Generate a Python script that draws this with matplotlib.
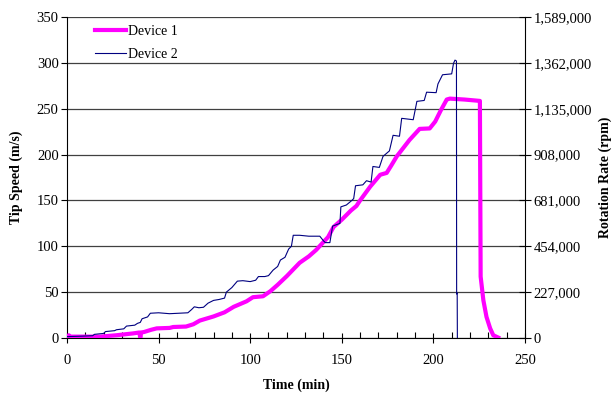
import matplotlib
matplotlib.use("Agg")
import matplotlib.pyplot as plt
from matplotlib.ticker import MultipleLocator, FuncFormatter

plt.rcParams["font.family"] = ["Liberation Serif", "DejaVu Serif"]

# Device 1 (thick magenta)
d1_time = [0, 1, 2, 10, 18, 27, 36, 39.5, 40, 40.5, 42, 46, 49, 56, 58, 65, 69,
           72.5, 80, 86, 91, 98, 101.5, 107, 111, 115, 120, 127, 132, 136, 142.5,
           145.5, 150, 155, 158, 160, 165.5, 171, 174.5, 177, 180, 187, 192.5,
           198, 201, 204, 207.3, 209, 217, 225.4, 225.8, 227.3, 229, 231, 232.7,
           235.4]
d1_speed = [2, 3, 1.5, 1.5, 1.5, 3, 5, 6, 0, 6, 6.5, 9, 10.5, 11, 12, 12.5, 15,
            19, 23.5, 28, 34, 40, 44.5, 45.5, 51, 58, 67.5, 82, 89, 96, 110,
            121, 129, 139, 144, 150, 165, 178, 180, 188, 198, 216, 228,
            228.5, 236, 248, 260, 261, 260, 258.5, 67, 41, 23, 10.5, 3,
            0.5]

# Device 2 (thin navy)
d2_time = [0, 8, 14, 15, 20, 21, 26, 27, 31, 32.5, 37, 38.5, 40, 41, 44, 45.5,
           50, 56, 61, 66, 68, 69.5, 72, 74.5, 77, 80, 83, 86, 87, 90, 93, 96,
           100, 103, 104.5, 108, 110, 112.5, 115, 116.5, 119, 121, 122.5, 123.5,
           127, 132, 138, 140, 141, 143.5, 145, 149, 149.5, 152.5, 155.5, 156.5,
           157.5, 161.5, 163.5, 166, 167, 170.5, 172.5, 176, 178, 181.5, 182.7,
           189, 191, 195, 196.3, 201.5, 202.5, 205, 210, 211, 211.8, 212.6,
           212.7, 213.0, 213.1]
d2_speed = [1.5, 2, 2.5, 4, 5, 7, 8, 9, 10, 13, 14, 16, 17, 21, 23, 27,
            27.5, 26.5, 27, 27.5, 31, 34, 33, 33.5, 38, 41, 42, 43.5, 50, 55, 62,
            62.5, 61.5, 63, 67, 67, 68, 74, 78, 85, 88, 97, 100, 112,
            112, 111, 111, 106, 104, 104, 122, 125, 143, 145, 150, 152,
            166, 167, 171.5, 170, 187, 186, 198, 204, 221, 220, 239.5,
            238, 258, 259, 268, 267.5, 277, 287, 288, 299.5, 303, 302,
            48, 49, 0]

rpm_ticks = [0, 227000, 454000, 681000, 908000, 1135000, 1362000, 1589000]

fig = plt.figure(figsize=(6.14, 3.97), dpi=100)
ax = fig.add_axes([0.1091, 0.1486, 0.7459, 0.8086])

ax.plot(d1_time, d1_speed, color="#FF00FF", lw=3.0, label="Device 1",
        solid_joinstyle="round", zorder=3)
ax.plot(d2_time, d2_speed, color="#000080", lw=0.8, label="Device 2", zorder=4)

ax.set_xlim(0, 250)
ax.set_ylim(0, 350)
ax.xaxis.set_major_locator(MultipleLocator(50))
ax.xaxis.set_minor_locator(MultipleLocator(10))
ax.yaxis.set_major_locator(MultipleLocator(50))
ax.grid(axis="y", color="#404040", lw=0.9)
ax.set_axisbelow(True)

ax.spines["top"].set_visible(False)
ax.spines["right"].set_visible(False)
ax.tick_params(axis="x", which="major", direction="inout", length=7, width=0.8,
               labelsize=10.5, pad=8)
ax.tick_params(axis="x", which="minor", direction="in", length=4, width=0.8)
ax.tick_params(axis="y", direction="out", length=4, width=0.8, labelsize=10.5, pad=2)

ax.set_xlabel("Time (min)", fontsize=10, fontweight="bold", labelpad=8)
ax.set_ylabel("Tip Speed (m/s)", fontsize=10, fontweight="bold", labelpad=10)

ax2 = ax.twinx()
ax2.set_ylim(0, 1589000)
ax2.set_yticks(rpm_ticks)
ax2.yaxis.set_major_formatter(FuncFormatter(lambda v, p: f"{int(v):,}"))
ax2.tick_params(axis="y", direction="inout", length=8, width=0.8, labelsize=10.5, pad=2)
for s in ["top", "left", "bottom"]:
    ax2.spines[s].set_visible(False)
ax2.set_ylabel("Rotation Rate (rpm)", fontsize=10, fontweight="bold", labelpad=5)

leg = ax.legend(loc="upper left", bbox_to_anchor=(0.049, 0.993), frameon=False,
                fontsize=10, handlelength=2.2, handletextpad=0.2,
                labelspacing=0.7, borderaxespad=0.0)

fig.savefig("out.png", dpi=100)
